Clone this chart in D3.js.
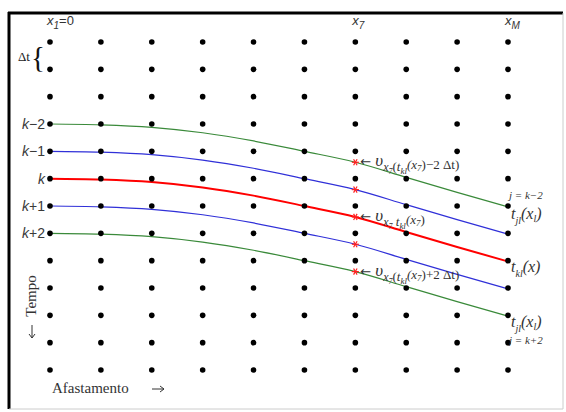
<!DOCTYPE html>
<html><head><meta charset="utf-8">
<script src="https://cdn.jsdelivr.net/npm/d3@7"></script>
<style>body{margin:0;background:#fff}svg{display:block}</style>
</head><body>
<svg id="c" width="566" height="412"></svg>
<script>
// Data
const columns = [1,2,3,4,5,6,7,8,9,10];          // offset positions x_1..x_M
const rows = [0,1,2,3,4,5,6,7,8,9,10,11,12];     // time samples
const curveLabels = ["k−2","k−1","k","k+1","k+2"];
const curveRows = [3,4,5,6,7];
const curveColors = ["#3a8a3a","#3030d8","#ff0000","#3030d8","#3a8a3a"];
const moveout = [0, 0.03, 0.12, 0.32, 0.62, 1.0, 1.4, 1.95, 2.5, 3.03]; // rows of delay per column
const markColumn = 7;
const headerLabels = [{col:1, main:"x", sub:"1", tail:"=0"}, {col:7, main:"x", sub:"7", tail:""}, {col:10, main:"x", sub:"M", tail:""}];

const svg = d3.select("#c");
const x = d3.scaleLinear().domain([1,10]).range([50,508]);
const y = d3.scaleLinear().domain([0,12]).range([42,370]);
const annF = "Liberation Serif, serif";
const arrF = "DejaVu Sans";
const ink = "#333";

// frame
svg.append("line").attr("x1",9).attr("y1",12).attr("x2",9).attr("y2",409).attr("stroke","#000").attr("stroke-width",3);
svg.append("line").attr("x1",8).attr("y1",13).attr("x2",563).attr("y2",13).attr("stroke","#000").attr("stroke-width",3);
svg.append("line").attr("x1",563).attr("y1",13).attr("x2",563).attr("y2",409).attr("stroke","#ccc").attr("stroke-width",1);
svg.append("line").attr("x1",9).attr("y1",409).attr("x2",563).attr("y2",409).attr("stroke","#ccc").attr("stroke-width",1);

// curves
const line = d3.line().x(d=>x(d.c)).y(d=>y(d.r)).curve(d3.curveMonotoneX);
curveRows.forEach((r,i)=>{
  const pts = columns.map((c,j)=>({c, r: r + moveout[j]}));
  svg.append("path").attr("d", line(pts)).attr("fill","none")
    .attr("stroke", curveColors[i]).attr("stroke-width", i===2 ? 2 : 1.2);
});

// dots
const grid = [];
rows.forEach(r=>columns.forEach(c=>grid.push({r,c})));
svg.selectAll("circle.dot").data(grid).join("circle").attr("class","dot")
  .attr("cx",d=>x(d.c)).attr("cy",d=>y(d.r)).attr("r",2.8).attr("fill","#000");

// red asterisks at x_7
curveRows.forEach(r=>{
  const cx = x(markColumn), cy = y(r + moveout[markColumn-1]);
  const g = svg.append("g").attr("transform",`translate(${cx},${cy})`).attr("stroke","#ff2020").attr("stroke-width",1.2);
  [0,60,120].forEach(a=>{
    const rad=a*Math.PI/180, s=3.5;
    g.append("line").attr("x1",-s*Math.cos(rad)).attr("y1",-s*Math.sin(rad)).attr("x2",s*Math.cos(rad)).attr("y2",s*Math.sin(rad));
  });
});

// left labels
curveRows.forEach((r,i)=>{
  const t = svg.append("text").attr("x",45).attr("y",y(r)+5).attr("text-anchor","end")
    .attr("font-family","Liberation Sans, Arial, sans-serif").attr("font-size",14).attr("fill","#3a3a3a");
  const lab = curveLabels[i];
  t.append("tspan").attr("font-style","italic").text("k");
  if (lab.length>1) t.append("tspan").text(lab.slice(1));
});

// Δt brace
svg.append("text").attr("x",18).attr("y",61).attr("font-family",annF).attr("font-size",13).attr("fill","#222").text("Δt");
svg.append("text").attr("x",31).attr("y",67).attr("font-family",annF).attr("font-size",29).attr("fill","#111").text("{");

// header labels
headerLabels.forEach(h=>{
  const t = svg.append("text").attr("x",x(h.col)-3).attr("y",25)
    .attr("font-family","Liberation Sans, Arial, sans-serif").attr("font-size",13).attr("fill",ink);
  t.append("tspan").attr("font-style","italic").text(h.main);
  t.append("tspan").attr("dy",4).attr("font-size",10).attr("font-style","italic").text(h.sub);
  if (h.tail) t.append("tspan").attr("dy",-4).text(h.tail);
});

// annotations near x_7
function annot(r, tailText, sign){
  const cx = x(markColumn)+5, cy = y(r + moveout[markColumn-1]) + 4;
  const t = svg.append("text").attr("x",cx).attr("y",cy).attr("font-family",annF).attr("font-size",14).attr("fill",ink);
  t.append("tspan").attr("font-family",arrF).attr("font-size",13).text("← ");
  t.append("tspan").attr("font-style","italic").attr("font-size",17).text("υ");
  t.append("tspan").attr("dy",5).attr("font-size",12).attr("font-style","italic").text("x");
  t.append("tspan").attr("dy",3).attr("font-size",8).attr("font-style","italic").text("7");
  t.append("tspan").attr("dy",-3).attr("font-size",13).text(sign ? "(" : " ");
  t.append("tspan").attr("font-size",13).attr("font-style","italic").text("t");
  t.append("tspan").attr("dy",3).attr("font-size",9).attr("font-style","italic").text("kl");
  t.append("tspan").attr("dy",-5).attr("font-size",13).attr("font-style","italic").text("(x");
  t.append("tspan").attr("dy",2).attr("font-size",9).attr("font-style","italic").text("7");
  t.append("tspan").attr("dy",-2).attr("font-size",13).text(")" + (sign ? tailText + ")" : ""));
}
annot(curveRows[0], "−2 Δt", true);
annot(curveRows[2], "", false);
annot(curveRows[4], "+2 Δt", true);

// right labels
function tlab(r, sub, arg, dyOff){
  const t = svg.append("text").attr("x",x(10)+3).attr("y",y(r+moveout[9])+dyOff)
    .attr("font-family",annF).attr("font-size",16).attr("fill",ink).attr("font-style","italic");
  t.append("tspan").text("t");
  t.append("tspan").attr("dy",5).attr("font-size",10).text(sub);
  t.append("tspan").attr("dy",-5).text("(x" );
  if (arg) t.append("tspan").attr("dy",3).attr("font-size",10).text(arg);
  t.append("tspan").attr("dy",arg?-3:0).text(")");
}
tlab(curveRows[0], "jl", "l", 12);
tlab(curveRows[2], "kl", "", 11);
tlab(curveRows[4], "jl", "l", 11);
svg.append("text").attr("x",x(10)+1).attr("y",y(curveRows[0]+moveout[9])-8).attr("font-family",annF).attr("font-size",11).attr("fill",ink).attr("font-style","italic").text("j = k−2");
svg.append("text").attr("x",x(10)+1).attr("y",y(curveRows[4]+moveout[9])+28).attr("font-family",annF).attr("font-size",11).attr("fill",ink).attr("font-style","italic").text("j = k+2");

// axis titles
svg.append("text").attr("transform","translate(31,296) rotate(-90)").attr("text-anchor","middle")
  .attr("dominant-baseline","central")
  .attr("font-family",annF).attr("font-size",15).attr("fill",ink).text("Tempo");
// down arrow
svg.append("path").attr("d","M32,325 L32,338 M29,334 L32,338 L35,334")
  .attr("fill","none").attr("stroke",ink).attr("stroke-width",1);
svg.append("text").attr("x",52).attr("y",393)
  .attr("font-family",annF).attr("font-size",15).attr("fill",ink).text("Afastamento");
// right arrow
svg.append("path").attr("d","M152,389 L164,389 M160,386 L164,389 L160,392")
  .attr("fill","none").attr("stroke",ink).attr("stroke-width",1);
</script>
</body></html>
